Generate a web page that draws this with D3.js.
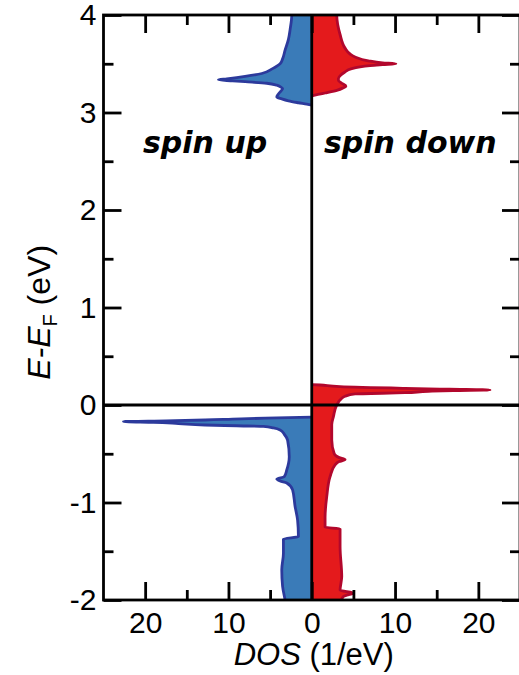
<!DOCTYPE html>
<html>
<head>
<meta charset="utf-8">
<script src="https://cdn.jsdelivr.net/npm/d3@7"></script>
<style>
  html, body { margin: 0; padding: 0; background: #fff; }
  svg { display: block; }
</style>
</head>
<body>
<svg id="chart" width="519" height="675"></svg>
<script>
// ---- data: [energy E-E_F (eV), DOS (1/eV)] ----
const spinUpHigh = [
  [4.05, 2.4], [4.0, 2.4], [3.85, 2.6], [3.75, 2.8], [3.64, 3.2], [3.55, 3.5],
  [3.50, 3.8], [3.45, 4.7], [3.40, 6.0], [3.37, 8.0], [3.345, 10.2], [3.335, 11.2],
  [3.325, 9.5], [3.316, 8.0], [3.30, 5.4], [3.28, 4.2], [3.26, 3.7], [3.245, 3.5],
  [3.22, 3.7], [3.19, 4.0], [3.16, 4.2], [3.14, 3.6], [3.12, 2.8], [3.10, 1.6],
  [3.085, 0.6], [3.075, 0]
];
const spinUpLow = [
  [-0.125, 0], [-0.135, 5.6], [-0.145, 9.5], [-0.154, 12.8], [-0.162, 17.5],
  [-0.170, 22.6], [-0.178, 19], [-0.19, 16], [-0.205, 12.8], [-0.213, 9],
  [-0.22, 5.8], [-0.235, 4.6], [-0.256, 3.8], [-0.30, 3.3], [-0.36, 2.9],
  [-0.53, 2.7], [-0.667, 3.0], [-0.735, 3.3], [-0.76, 4.2], [-0.78, 3.8],
  [-0.80, 3.0], [-0.87, 2.3], [-1.04, 2.0], [-1.18, 1.7], [-1.35, 1.6],
  [-1.375, 3.4], [-1.52, 3.4], [-1.69, 3.6], [-1.86, 3.5], [-2.0, 3.2], [-2.05, 3.1]
];
const spinDownHigh = [
  [4.05, 3.0], [4.0, 3.0], [3.8, 3.4], [3.66, 4.0], [3.60, 4.6], [3.57, 5.2],
  [3.53, 6.8], [3.51, 8.5], [3.50, 10.1], [3.49, 8.5], [3.48, 7.0], [3.45, 4.8],
  [3.41, 3.9], [3.385, 3.5], [3.35, 3.2], [3.33, 3.2], [3.30, 3.6], [3.27, 4.1],
  [3.25, 3.7], [3.23, 3.1], [3.20, 1.6], [3.18, 0.5], [3.17, 0]
];
const spinDownLow = [
  [0.21, 0], [0.205, 1.0], [0.188, 3.4], [0.171, 11.2], [0.162, 16.5], [0.154, 21.4],
  [0.148, 17], [0.14, 14], [0.126, 11.2], [0.113, 5.2], [0.09, 4.0], [0.069, 3.6],
  [0.0, 3.0], [-0.12, 2.6], [-0.2, 2.4], [-0.36, 2.4], [-0.50, 2.7], [-0.54, 3.3],
  [-0.56, 4.0], [-0.58, 3.3], [-0.615, 2.8], [-0.735, 2.2], [-0.94, 1.8],
  [-1.15, 1.6], [-1.255, 1.6], [-1.27, 3.4], [-1.45, 3.4], [-1.76, 3.6],
  [-1.90, 3.4], [-1.93, 5.0], [-1.95, 4.2], [-1.965, 3.8], [-2.0, 3.6], [-2.05, 3.6]
];
const xMajorTicks = [-20, -10, 0, 10, 20];
const xMinorTicks = [-15, -5, 5, 15];
const yMajorTicks = [-2, -1, 0, 1, 2, 3, 4];
const yMinorTicks = [-1.5, -0.5, 0.5, 1.5, 2.5, 3.5];
const panelLabels = ["spin up", "spin down"];

// ---- layout ----
const L = 103.5, R = 520, T = 15, B = 600;
const svg = d3.select("#chart");
const x = d3.scaleLinear().domain([-25, 25]).range([L, R]);
const y = d3.scaleLinear().domain([-2, 4]).range([B, T]);

const defs = svg.append("defs");
defs.append("clipPath").attr("id", "clip")
  .append("rect").attr("x", L).attr("y", T).attr("width", R - L).attr("height", B - T);

const plot = svg.append("g").attr("clip-path", "url(#clip)");

function drawDos(data, sign, fill, stroke) {
  const area = d3.area()
    .curve(d3.curveMonotoneY)
    .y(d => y(d[0]))
    .x0(x(0))
    .x1(d => x(sign * d[1]));
  const line = d3.line()
    .curve(d3.curveMonotoneY)
    .y(d => y(d[0]))
    .x(d => x(sign * d[1]));
  plot.append("path").datum(data).attr("d", area).attr("fill", fill);
  plot.append("path").datum(data).attr("d", line)
    .attr("fill", "none").attr("stroke", stroke).attr("stroke-width", 2.8)
    .attr("stroke-linejoin", "round");
}
const upFill = "#3a7bb8", upStroke = "#2c3a9c";
const dnFill = "#e41a1c", dnStroke = "#b2072c";
drawDos(spinUpHigh, -1, upFill, upStroke);
drawDos(spinUpLow, -1, upFill, upStroke);
drawDos(spinDownHigh, 1, dnFill, dnStroke);
drawDos(spinDownLow, 1, dnFill, dnStroke);

// zero lines
svg.append("line").attr("x1", x(0)).attr("x2", x(0)).attr("y1", T).attr("y2", B)
  .attr("stroke", "#000").attr("stroke-width", 2.8);
svg.append("line").attr("x1", L).attr("x2", R).attr("y1", y(0)).attr("y2", y(0))
  .attr("stroke", "#000").attr("stroke-width", 2.8);

// frame
svg.append("rect").attr("x", L).attr("y", T).attr("width", R - L).attr("height", B - T)
  .attr("fill", "none").attr("stroke", "#000").attr("stroke-width", 2.8);

const FONT = "'Liberation Sans', Arial, Helvetica, sans-serif";
function styleAxis(g) {
  g.select(".domain").remove();
  g.selectAll(".tick line").attr("stroke", "#000").attr("stroke-width", 2.8);
  g.selectAll(".tick text").attr("fill", "#000").style("font-family", FONT).style("font-size", "30px");
}
// bottom
svg.append("g").attr("transform", `translate(0,${B})`)
  .call(d3.axisBottom(x).tickValues(xMajorTicks).tickSize(-18).tickPadding(12)
    .tickFormat(d => String(Math.abs(d))))
  .call(styleAxis);
svg.append("g").attr("transform", `translate(0,${B})`)
  .call(d3.axisBottom(x).tickValues(xMinorTicks).tickSize(-10).tickFormat(""))
  .call(styleAxis);
// top
svg.append("g").attr("transform", `translate(0,${T})`)
  .call(d3.axisTop(x).tickValues(xMajorTicks).tickSize(-18).tickFormat(""))
  .call(styleAxis);
svg.append("g").attr("transform", `translate(0,${T})`)
  .call(d3.axisTop(x).tickValues(xMinorTicks).tickSize(-10).tickFormat(""))
  .call(styleAxis);
// left
svg.append("g").attr("transform", `translate(${L},0)`)
  .call(d3.axisLeft(y).tickValues(yMajorTicks).tickSize(-18).tickPadding(7)
    .tickFormat(d => String(d)))
  .call(styleAxis);
svg.append("g").attr("transform", `translate(${L},0)`)
  .call(d3.axisLeft(y).tickValues(yMinorTicks).tickSize(-10).tickFormat(""))
  .call(styleAxis);
// right
svg.append("g").attr("transform", `translate(${R},0)`)
  .call(d3.axisRight(y).tickValues(yMajorTicks).tickSize(-18).tickFormat(""))
  .call(styleAxis);
svg.append("g").attr("transform", `translate(${R},0)`)
  .call(d3.axisRight(y).tickValues(yMinorTicks).tickSize(-10).tickFormat(""))
  .call(styleAxis);

// panel labels
const labelFont = "'DejaVu Sans', sans-serif";
svg.append("text").attr("x", 143).attr("y", 153).text(panelLabels[0])
  .style("font-family", labelFont).style("font-size", "30px")
  .style("font-weight", "bold").style("font-style", "oblique");
svg.append("text").attr("x", 324).attr("y", 153).text(panelLabels[1])
  .style("font-family", labelFont).style("font-size", "30px")
  .style("font-weight", "bold").style("font-style", "oblique");

// axis titles
const xt = svg.append("text").attr("x", x(0) + 2).attr("y", 665).attr("text-anchor", "middle")
  .style("font-family", FONT).style("font-size", "31px");
xt.append("tspan").style("font-style", "italic").text("DOS");
xt.append("tspan").text(" (1/eV)");

const yt = svg.append("text").attr("transform", `translate(50,${y(0.95)}) rotate(-90)`)
  .attr("text-anchor", "middle")
  .style("font-family", FONT).style("font-size", "32px");
yt.append("tspan").style("font-style", "italic").text("E-E");
yt.append("tspan").style("font-size", "20px").attr("dy", 7).text("F");
yt.append("tspan").attr("dy", -7).text(" (eV)");
</script>
</body>
</html>
